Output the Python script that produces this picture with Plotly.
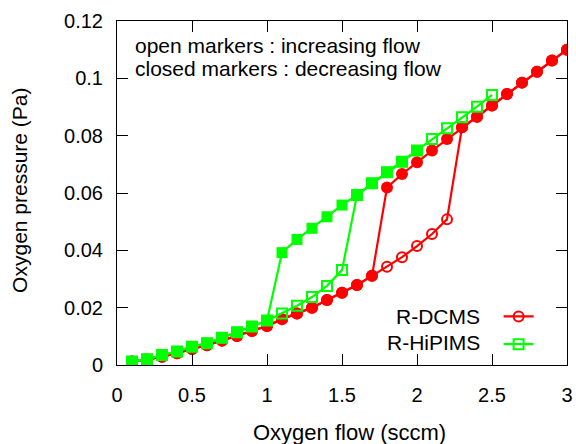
import plotly.graph_objects as go

# Oxygen flow (sccm) and oxygen pressure (Pa)
red_down_x = [3.0, 2.9, 2.8, 2.7, 2.6, 2.5, 2.4, 2.3, 2.2, 2.1, 2.0, 1.9, 1.8, 1.7, 1.6,
              1.5, 1.4, 1.3, 1.2, 1.1, 1.0, 0.9, 0.8, 0.7, 0.6, 0.5, 0.4, 0.3, 0.2, 0.1]
red_down_y = [0.1100, 0.1062, 0.1023, 0.0985, 0.0945, 0.0905, 0.0866, 0.0829, 0.0788, 0.0748,
              0.0707, 0.0666, 0.0619, 0.0311, 0.0279, 0.0252, 0.0227, 0.0200, 0.0180, 0.0160,
              0.0136, 0.0119, 0.0101, 0.0085, 0.0069, 0.0056, 0.0041, 0.0029, 0.0019, 0.0012]

red_up_x = [0.1, 0.2, 0.3, 0.4, 0.5, 0.6, 0.7, 0.8, 0.9, 1.0, 1.1, 1.2, 1.3, 1.4, 1.5,
            1.6, 1.7, 1.8, 1.9, 2.0, 2.1, 2.2, 2.3, 2.4, 2.5, 2.6, 2.7, 2.8, 2.9, 3.0]
red_up_y = [0.0012, 0.0019, 0.0029, 0.0041, 0.0056, 0.0069, 0.0085, 0.0101, 0.0119, 0.0136,
            0.0160, 0.0180, 0.0200, 0.0227, 0.0252, 0.0279, 0.0311, 0.0343, 0.0376, 0.0415,
            0.0457, 0.0508, 0.0829, 0.0866, 0.0905, 0.0945, 0.0985, 0.1023, 0.1062, 0.1100]

green_down_x = [2.0, 1.9, 1.8, 1.7, 1.6, 1.5, 1.4, 1.3, 1.2, 1.1,
                1.0, 0.9, 0.8, 0.7, 0.6, 0.5, 0.4, 0.3, 0.2, 0.1]
green_down_y = [0.0748, 0.0709, 0.0672, 0.0634, 0.0593, 0.0558, 0.0517, 0.0477, 0.0438, 0.0392,
                0.0155, 0.0134, 0.0114, 0.0095, 0.0076, 0.0064, 0.0047, 0.0035, 0.0020, 0.0012]

green_up_x = [0.1, 0.2, 0.3, 0.4, 0.5, 0.6, 0.7, 0.8, 0.9, 1.0, 1.1, 1.2, 1.3,
              1.4, 1.5, 1.6, 1.7, 1.8, 1.9, 2.0, 2.1, 2.2, 2.3, 2.4, 2.5]
green_up_y = [0.0012, 0.0020, 0.0035, 0.0047, 0.0064, 0.0076, 0.0095, 0.0114, 0.0134, 0.0155,
              0.0180, 0.0207, 0.0237, 0.0276, 0.0331, 0.0593, 0.0634, 0.0672, 0.0709, 0.0748,
              0.0788, 0.0826, 0.0864, 0.0901, 0.0942]

x_ticks = [0, 0.5, 1, 1.5, 2, 2.5, 3]
x_tick_text = ["0", "0.5", "1", "1.5", "2", "2.5", "3"]
y_ticks = [0, 0.02, 0.04, 0.06, 0.08, 0.1, 0.12]
y_tick_text = ["0", "0.02", "0.04", "0.06", "0.08", "0.1", "0.12"]

RED = "#ff0000"
GREEN = "#00ff00"
FONT = "Liberation Sans, Arial, sans-serif"

fig = go.Figure()
fig.add_trace(go.Scatter(
    x=red_up_x, y=red_up_y, mode="lines+markers", name=" ",
    line=dict(color=RED, width=2.2),
    marker=dict(symbol="circle-open", size=10, color=RED, line=dict(width=2, color=RED)),
    showlegend=True))
fig.add_trace(go.Scatter(
    x=red_down_x, y=red_down_y, mode="lines+markers", name="R-DCMS down",
    line=dict(color=RED, width=2.2),
    marker=dict(symbol="circle", size=12, color=RED),
    showlegend=False))
fig.add_trace(go.Scatter(
    x=green_down_x, y=green_down_y, mode="lines+markers", name="R-HiPIMS down",
    line=dict(color=GREEN, width=2.2),
    marker=dict(symbol="square", size=11, color=GREEN),
    showlegend=False))
fig.add_trace(go.Scatter(
    x=green_up_x, y=green_up_y, mode="lines+markers", name="  ",
    line=dict(color=GREEN, width=2.2),
    marker=dict(symbol="square-open", size=10, color=GREEN, line=dict(width=2, color=GREEN)),
    showlegend=True))

axis_common = dict(
    showline=True, linecolor="black", linewidth=1, mirror="ticks",
    ticks="inside", ticklen=11, tickwidth=1, tickcolor="black",
    showgrid=False, zeroline=False, automargin=False,
    tickfont=dict(family=FONT, size=20, color="black"),
)

fig.update_xaxes(range=[0, 3], tickvals=x_ticks, ticktext=x_tick_text,
                 ticklabelstandoff=12, **axis_common)
fig.update_yaxes(range=[0, 0.12], tickvals=y_ticks, ticktext=y_tick_text,
                 ticklabelstandoff=9, **axis_common)

TXT = dict(family=FONT, size=21, color="black")
TITLE = dict(family=FONT, size=22, color="black")
annotations = [
    dict(text="open markers : increasing flow", x=0.036, y=0.930, xref="paper", yref="paper",
         xanchor="left", yanchor="middle", showarrow=False, font=TXT),
    dict(text="closed markers : decreasing flow", x=0.036, y=0.863, xref="paper", yref="paper",
         xanchor="left", yanchor="middle", showarrow=False, font=TXT),
    dict(text="R-DCMS", x=0.81, y=0.142, xref="paper", yref="paper",
         xanchor="right", yanchor="middle", showarrow=False, font=TXT),
    dict(text="R-HiPIMS", x=0.81, y=0.065, xref="paper", yref="paper",
         xanchor="right", yanchor="middle", showarrow=False, font=TXT),
    dict(text="Oxygen flow (sccm)", x=0.516, y=-0.195, xref="paper", yref="paper",
         xanchor="center", yanchor="middle", showarrow=False, font=TITLE),
    dict(text="Oxygen pressure (Pa)", x=-0.2156, y=0.509, xref="paper", yref="paper",
         xanchor="center", yanchor="middle", showarrow=False, font=TXT, textangle=-90),
]

fig.update_layout(
    width=576, height=444,
    margin=dict(l=117, r=9, t=21, b=79),
    paper_bgcolor="white", plot_bgcolor="white",
    font=dict(family=FONT, size=20, color="black"),
    annotations=annotations,
    showlegend=True,
    legend=dict(x=0.848, y=0.196, xanchor="left", yanchor="top",
                bgcolor="rgba(0,0,0,0)", borderwidth=0,
                font=dict(family=FONT, size=19), itemwidth=30,
                tracegroupgap=0),
)

fig.write_html("out.html", config={"displayModeBar": False},
               post_script="document.body.style.margin='0';document.body.style.padding='0';")
